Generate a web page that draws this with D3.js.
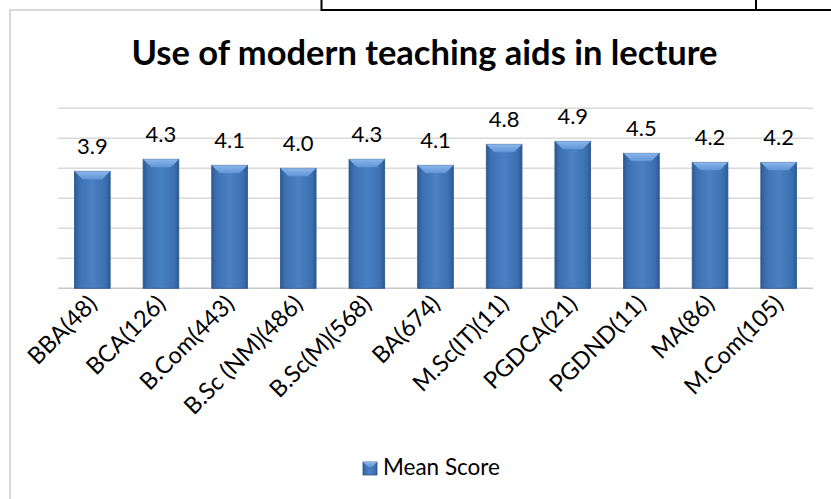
<!DOCTYPE html>
<html>
<head>
<meta charset="utf-8">
<script src="https://cdn.jsdelivr.net/npm/d3@7"></script>
<style>
    html, body { margin: 0; padding: 0; overflow: hidden; background: #fff; }
    svg { display: block; }
    svg text { font-family: Lato, "Open Sans", sans-serif; fill: #000; }
</style>
</head>
<body>
<div id="chart"></div>
<script>
// chart data
var categories = ["BBA(48)", "BCA(126)", "B.Com(443)", "B.Sc (NM)(486)", "B.Sc(M)(568)", "BA(674)",
    "M.Sc(IT)(11)", "PGDCA(21)", "PGDND(11)", "MA(86)", "M.Com(105)"];
var meanScores = [3.9, 4.3, 4.1, 4.0, 4.3, 4.1, 4.8, 4.9, 4.5, 4.2, 4.2];
var yTicks = [0, 1, 2, 3, 4, 5, 6];
var seriesName = "Mean Score";
var chartTitle = "Use of modern teaching aids in lecture";

var width = 831, height = 499;

var svg = d3.select("#chart").append("svg")
    .attr("width", width)
    .attr("height", height);

svg.append("rect")
    .attr("width", width)
    .attr("height", height)
    .attr("fill", "#fff");

// gradients for the bevelled bars
var defs = svg.append("defs");
var body = defs.append("linearGradient").attr("id", "barBody")
    .attr("x1", "0%").attr("x2", "100%").attr("y1", "0%").attr("y2", "0%");
body.append("stop").attr("offset", "0%").attr("stop-color", "#2c5a92");
body.append("stop").attr("offset", "12%").attr("stop-color", "#3b6fb0");
body.append("stop").attr("offset", "50%").attr("stop-color", "#4a81c4");
body.append("stop").attr("offset", "88%").attr("stop-color", "#3b6fb0");
body.append("stop").attr("offset", "100%").attr("stop-color", "#2c5a92");

var bevel = defs.append("linearGradient").attr("id", "barTop")
    .attr("x1", "0%").attr("x2", "0%").attr("y1", "0%").attr("y2", "100%");
bevel.append("stop").attr("offset", "0%").attr("stop-color", "#8cb6ea");
bevel.append("stop").attr("offset", "100%").attr("stop-color", "#5f95d6");

// chart frame (only left and top edges fall inside the picture)
svg.append("path")
    .attr("d", "M10,499V10H322")
    .attr("fill", "none")
    .attr("stroke", "#d9d9d9")
    .attr("stroke-width", 2);

// table lines above the chart
var tableLines = svg.append("g")
    .attr("stroke", "#000")
    .attr("stroke-width", 2)
    .attr("fill", "none");
tableLines.append("path").attr("d", "M321.5,0V10H831");
tableLines.append("path").attr("d", "M756,0V10");

// plot area
var plot = {left: 58, right: 813, top: 108.3, bottom: 288.3};

var x = d3.scaleBand()
    .domain(categories)
    .range([plot.left, plot.right])
    .paddingInner(0.48)
    .paddingOuter(0.24);

var y = d3.scaleLinear()
    .domain([0, 6])
    .range([plot.bottom, plot.top]);

// gridlines
svg.append("g")
    .selectAll("line")
    .data(yTicks)
    .join("line")
    .attr("x1", plot.left)
    .attr("x2", plot.right)
    .attr("y1", function (d) { return y(d); })
    .attr("y2", function (d) { return y(d); })
    .attr("stroke", function (d) { return d === 0 ? "#c8c8c8" : "#d9d9d9"; })
    .attr("stroke-width", 1.5);

// title
svg.append("text")
    .attr("x", 424.5)
    .attr("y", 65)
    .attr("text-anchor", "middle")
    .style("font-size", "34.5px")
    .style("font-weight", "bold")
    .text(chartTitle);

// bars
var bev = 8;
var bars = svg.append("g")
    .selectAll("g")
    .data(meanScores)
    .join("g");

bars.append("rect")
    .attr("x", function (d, i) { return x(categories[i]); })
    .attr("y", function (d) { return y(d); })
    .attr("width", x.bandwidth())
    .attr("height", function (d) { return y(0) - y(d); })
    .attr("fill", "url(#barBody)")
    .attr("stroke", "#2b558a")
    .attr("stroke-width", 0.8);

bars.append("path")
    .attr("d", function (d, i) {
        var x0 = x(categories[i]), x1 = x0 + x.bandwidth(), t = y(d);
        return "M" + x0 + "," + t + "H" + x1 +
            "L" + (x1 - bev) + "," + (t + bev) + "H" + (x0 + bev) + "Z";
    })
    .attr("fill", "url(#barTop)");

// value labels
bars.append("text")
    .attr("x", function (d, i) { return x(categories[i]) + x.bandwidth() / 2; })
    .attr("y", function (d) { return y(d) - 17; })
    .attr("text-anchor", "middle")
    .style("font-size", "22px")
    .text(function (d) { return d.toFixed(1); });

// category labels, rotated
svg.append("g")
    .selectAll("text")
    .data(categories)
    .join("text")
    .attr("transform", function (d) {
        var cx = x(d) + x.bandwidth() / 2 + 6;
        return "translate(" + cx + "," + (plot.bottom + 17) + ") rotate(-45)";
    })
    .attr("text-anchor", "end")
    .style("font-size", "23.5px")
    .text(function (d) { return d; });

// legend
var legend = svg.append("g");
legend.append("rect")
    .attr("x", 363).attr("y", 462)
    .attr("width", 14).attr("height", 13)
    .attr("fill", "url(#barBody)")
    .attr("stroke", "#2b558a")
    .attr("stroke-width", 0.8);
legend.append("path")
    .attr("d", "M363,462H377L372,467H368Z")
    .attr("fill", "url(#barTop)");
legend.append("text")
    .attr("x", 383)
    .attr("y", 475)
    .style("font-size", "22.5px")
    .text(seriesName);
</script>
</body>
</html>
